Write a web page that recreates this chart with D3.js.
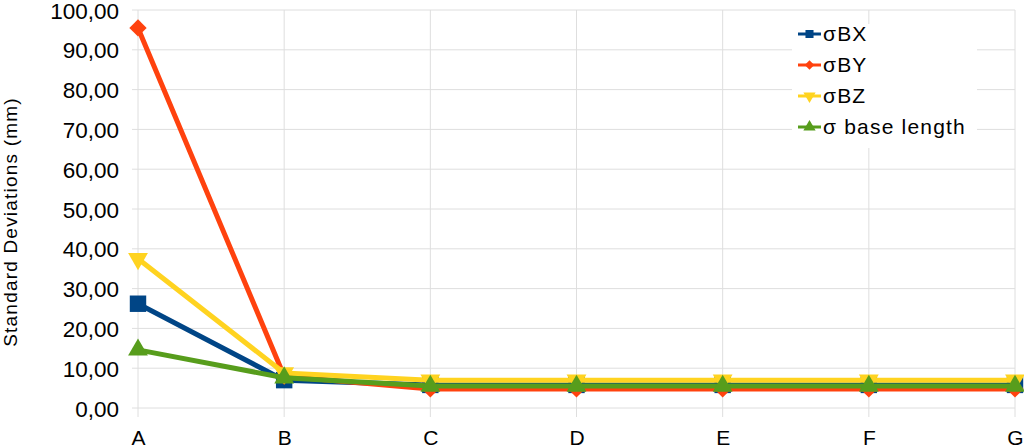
<!DOCTYPE html>
<html>
<head>
<meta charset="utf-8">
<script src="https://cdnjs.cloudflare.com/ajax/libs/d3/7.8.5/d3.min.js"></script>
<style>
  body { margin: 0; background: #fff; }
  text { font-family: "Liberation Sans", Arial, sans-serif; }
</style>
</head>
<body>
<div id="chart"></div>
<script>
var categories = ["A", "B", "C", "D", "E", "F", "G"];
var seriesNames = ["σBX", "σBY", "σBZ", "σ base length"];
var sigmaBX = [26.2, 7.0, 5.8, 5.8, 5.8, 5.8, 5.8];
var sigmaBY = [95.5, 8.0, 4.8, 4.8, 4.8, 4.8, 4.8];
var sigmaBZ = [37.5, 8.8, 7.0, 7.0, 7.0, 7.0, 7.0];
var sigmaBase = [14.6, 7.6, 5.5, 5.5, 5.5, 5.5, 5.5];
var yTicks = [0, 10, 20, 30, 40, 50, 60, 70, 80, 90, 100];

var colors = ["#004586", "#ff420e", "#ffd320", "#579d1c"];
var markerKinds = ["square", "diamond", "down", "up"];

var margin = {top: 10, right: 9, bottom: 40, left: 138},
    width = 1024 - margin.left - margin.right,
    height = 448 - margin.top - margin.bottom;

var svg = d3.select("#chart")
    .append("svg")
        .attr("width", 1024)
        .attr("height", 448)
    .append("g")
        .attr("transform", "translate(" + margin.left + "," + margin.top + ")");

var scaleX = d3.scalePoint()
    .domain(categories)
    .range([0, width]);

var scaleY = d3.scaleLinear()
    .domain([0, 100])
    .range([height, 0]);

// grid
svg.append("g")
    .selectAll("line")
    .data(yTicks)
    .enter()
    .append("line")
        .attr("x1", -6)
        .attr("x2", width)
        .attr("y1", d => scaleY(d))
        .attr("y2", d => scaleY(d))
        .attr("stroke", "#dedede")
        .attr("stroke-width", 1);

svg.append("g")
    .selectAll("line")
    .data(categories)
    .enter()
    .append("line")
        .attr("x1", d => scaleX(d))
        .attr("x2", d => scaleX(d))
        .attr("y1", 0)
        .attr("y2", height + 9)
        .attr("stroke", "#dedede")
        .attr("stroke-width", 1);

// axes labels
var yAxis = svg.append("g")
    .attr("transform", "translate(-16,0)")
    .call(d3.axisLeft(scaleY).tickValues(yTicks).tickSize(0)
        .tickFormat(d => d3.format(".2f")(d).replace(".", ",")));
yAxis.select(".domain").remove();
yAxis.selectAll("text")
    .attr("font-size", 22.5)
    .attr("dy", "0.36em")
    .attr("fill", "#000")
    .attr("font-family", "Liberation Sans, Arial, sans-serif");

var xAxis = svg.append("g")
    .attr("transform", "translate(0," + height + ")")
    .call(d3.axisBottom(scaleX).tickSize(0).tickPadding(22));
xAxis.select(".domain").remove();
xAxis.selectAll("text")
    .attr("font-size", 21)
    .attr("fill", "#000")
    .attr("font-family", "Liberation Sans, Arial, sans-serif");

svg.append("text")
    .attr("transform", "rotate(-90)")
    .attr("x", -(222 - margin.top))
    .attr("y", -margin.left + 17)
    .attr("text-anchor", "middle")
    .attr("font-size", 19)
    .attr("letter-spacing", 1.2)
    .text("Standard Deviations (mm)");

var allSeries = [sigmaBX, sigmaBY, sigmaBZ, sigmaBase];

function markerPath(kind, size) {
    if (kind === "up" || kind === "down") {
        return d3.symbol().type(d3.symbolTriangle).size(size)();
    }
    return d3.symbol().type(d3.symbolSquare).size(size)();
}
function markerRotate(kind) {
    if (kind === "down") return " rotate(180)";
    if (kind === "diamond") return " rotate(45)";
    return "";
}
var markerSizes = [270, 150, 170, 170];

var line = d3.line()
    .x((d, j) => scaleX(categories[j]))
    .y(d => scaleY(d));

allSeries.forEach(function(values, i) {
    var g = svg.append("g");
    g.append("path")
        .attr("fill", "none")
        .attr("stroke", colors[i])
        .attr("stroke-width", 5)
        .attr("stroke-linejoin", "round")
        .attr("d", line(values));
    g.selectAll("path.m")
        .data(values)
        .enter()
        .append("path")
            .attr("class", "m")
            .attr("fill", colors[i])
            .attr("d", markerPath(markerKinds[i], markerSizes[i]))
            .attr("transform", function(d, j) {
                return "translate(" + scaleX(categories[j]) + "," + scaleY(d) + ")" + markerRotate(markerKinds[i]);
            });
});

// legend
var legend = svg.append("g")
    .attr("transform", "translate(" + (790 - margin.left) + "," + (24 - margin.top) + ")");
legend.append("rect")
    .attr("x", 2)
    .attr("y", 0)
    .attr("width", 185)
    .attr("height", 124)
    .attr("fill", "#fff");

seriesNames.forEach(function(name, i) {
    var cy = 10 + i * 31;
    legend.append("line")
        .attr("x1", 8)
        .attr("x2", 31)
        .attr("y1", cy)
        .attr("y2", cy)
        .attr("stroke", colors[i])
        .attr("stroke-width", 3);
    legend.append("path")
        .attr("fill", colors[i])
        .attr("d", markerPath(markerKinds[i], i === 1 ? 45 : 65))
        .attr("transform", "translate(19.5," + cy + ")" + markerRotate(markerKinds[i]));
    legend.append("text")
        .attr("x", 33)
        .attr("y", cy + 7)
        .attr("font-size", 21)
        .attr("letter-spacing", 1.2)
        .text(name);
});
</script>
</body>
</html>
